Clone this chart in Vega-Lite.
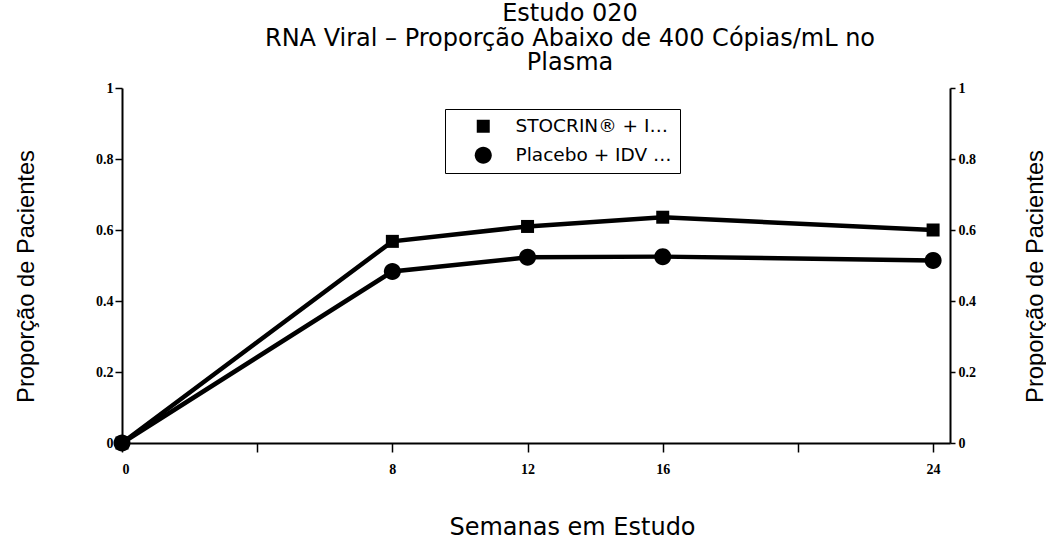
{
  "$schema": "https://vega.github.io/schema/vega-lite/v6.json",
  "width": 828,
  "height": 355,
  "autosize": {"type": "none"},
  "padding": {"left": 122, "top": 88, "right": 96, "bottom": 94},
  "background": "white",
  "title": {
    "text": ["Estudo 020", "RNA Viral – Proporção Abaixo de 400 Cópias/mL no", "Plasma"],
    "font": "DejaVu Sans",
    "fontSize": 24,
    "fontWeight": "normal",
    "color": "black",
    "lineHeight": 24.5,
    "anchor": "middle",
    "dx": 34,
    "offset": 6
  },
  "data": {
    "values": [
      {"semana": 0, "grupo": "STOCRIN® + IDV + ITRNs", "prop": 0},
      {"semana": 8, "grupo": "STOCRIN® + IDV + ITRNs", "prop": 0.568},
      {"semana": 12, "grupo": "STOCRIN® + IDV + ITRNs", "prop": 0.61},
      {"semana": 16, "grupo": "STOCRIN® + IDV + ITRNs", "prop": 0.636},
      {"semana": 24, "grupo": "STOCRIN® + IDV + ITRNs", "prop": 0.60},
      {"semana": 0, "grupo": "Placebo + IDV + ITRNs", "prop": 0},
      {"semana": 8, "grupo": "Placebo + IDV + ITRNs", "prop": 0.483},
      {"semana": 12, "grupo": "Placebo + IDV + ITRNs", "prop": 0.523},
      {"semana": 16, "grupo": "Placebo + IDV + ITRNs", "prop": 0.525},
      {"semana": 24, "grupo": "Placebo + IDV + ITRNs", "prop": 0.514}
    ]
  },
  "encoding": {
    "x": {
      "field": "semana",
      "type": "quantitative",
      "scale": {"domain": [0, 24.5], "nice": false, "zero": false},
      "axis": {
        "title": "Semanas em Estudo",
        "values": [0, 4, 8, 12, 16, 20, 24],
        "labelExpr": "datum.value == 4 || datum.value == 20 ? '' : datum.label",
        "grid": false,
        "domainColor": "black",
        "domainWidth": 2,
        "tickColor": "black",
        "tickWidth": 1.5,
        "tickSize": 9,
        "labelFont": "Liberation Serif",
        "labelFontWeight": "bold",
        "labelFontSize": 14,
        "labelColor": "black",
        "labelPadding": 10,
        "titleFont": "DejaVu Sans",
        "titleFontSize": 24,
        "titleFontWeight": "normal",
        "titleColor": "black",
        "titleX": 450,
        "titleY": 91,
        "titleBaseline": "alphabetic"
      }
    }
  },
  "layer": [
    {
      "mark": {"type": "line", "color": "black", "strokeWidth": 4.5},
      "encoding": {
        "y": {
          "field": "prop",
          "type": "quantitative",
          "scale": {"domain": [0, 1], "nice": false},
          "axis": {
            "orient": "left",
            "title": "Proporção de Pacientes",
            "values": [0, 0.2, 0.4, 0.6, 0.8, 1],
            "format": "~g",
            "grid": false,
            "domainColor": "black",
            "domainWidth": 2,
            "tickColor": "black",
            "tickWidth": 1.5,
            "tickSize": 7,
            "labelFont": "Liberation Serif",
            "labelFontWeight": "bold",
            "labelFontSize": 14,
            "labelColor": "black",
            "labelPadding": 2,
            "titleFont": "Liberation Sans",
            "titleFontSize": 23.7,
            "titleFontWeight": "normal",
            "titleColor": "black",
            "titleAngle": -90,
            "titleX": -89,
            "titleY": 188,
            "titleBaseline": "alphabetic"
          }
        },
        "detail": {"field": "grupo", "type": "nominal"}
      }
    },
    {
      "mark": {"type": "point", "filled": true, "color": "black", "opacity": 1, "size": 289},
      "encoding": {
        "y": {
          "field": "prop",
          "type": "quantitative",
          "scale": {"domain": [0, 1], "nice": false},
          "axis": {
            "orient": "right",
            "title": "Proporção de Pacientes",
            "values": [0, 0.2, 0.4, 0.6, 0.8, 1],
            "format": "~g",
            "grid": false,
            "domainColor": "black",
            "domainWidth": 2,
            "tickColor": "black",
            "tickWidth": 1.5,
            "tickSize": 5,
            "labelFont": "Liberation Serif",
            "labelFontWeight": "bold",
            "labelFontSize": 14,
            "labelColor": "black",
            "labelPadding": 3,
            "titleFont": "Liberation Sans",
            "titleFontSize": 23.7,
            "titleFontWeight": "normal",
            "titleColor": "black",
            "titleAngle": -90,
            "titleX": 92,
            "titleY": 188,
            "titleBaseline": "alphabetic"
          }
        },
        "shape": {
          "field": "grupo",
          "type": "nominal",
          "scale": {
            "domain": ["STOCRIN® + IDV + ITRNs", "Placebo + IDV + ITRNs"],
            "range": [
              "M-0.765,-0.765H0.765V0.765H-0.765Z",
              "M-1,0A1,1 0 1,1 1,0A1,1 0 1,1 -1,0Z"
            ]
          },
          "legend": {
            "title": null,
            "orient": "none",
            "legendX": 323,
            "legendY": 21,
            "strokeColor": "black",
            "padding": 8,
            "fillColor": "white",
            "labelFont": "DejaVu Sans",
            "labelFontSize": 18.5,
            "labelColor": "black",
            "symbolFillColor": "black",
            "symbolStrokeColor": "black",
            "symbolStrokeWidth": 0,
            "symbolSize": 289,
            "symbolOpacity": 1,
            "symbolOffset": 21,
            "labelOffset": 23,
            "rowPadding": 10,
            "encode": {
              "legend": {
                "update": {
                  "stroke": {"value": "black"},
                  "strokeWidth": {"value": 2}
                }
              },
              "symbols": {
                "update": {
                  "shape": {
                    "signal": "datum.label == 'Placebo + IDV + ITRNs' ? 'M-2.35,-0.12H0V0.12H-2.35Z M-0.75,0A0.75,0.75 0 1,1 0.75,0A0.75,0.75 0 1,1 -0.75,0Z' : 'M-2.35,-0.12H0V0.12H-2.35Z M-0.7,-0.7H0.7V0.7H-0.7Z'"
                  },
                  "size": {"value": 289}
                }
              }
            }
          }
        }
      }
    }
  ],
  "resolve": {"axis": {"y": "independent"}},
  "config": {"view": {"stroke": null}}
}
